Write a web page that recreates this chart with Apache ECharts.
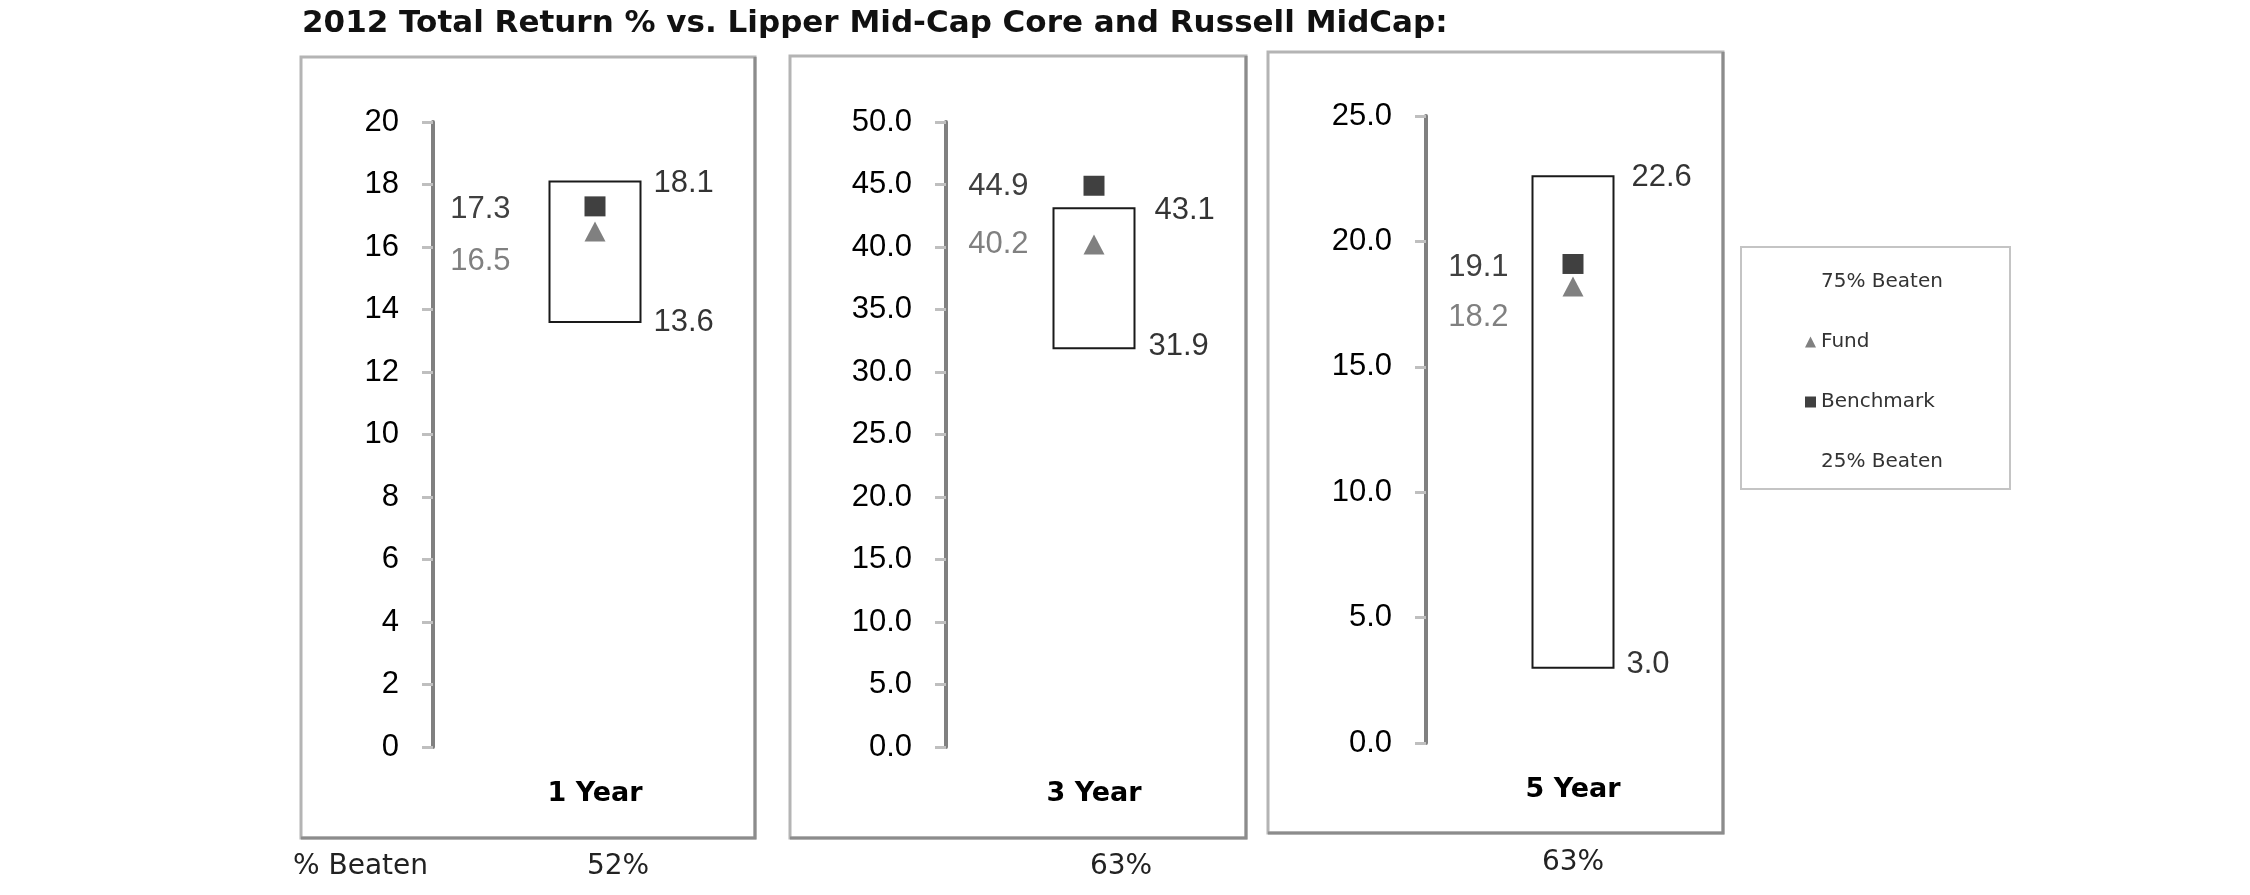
<!DOCTYPE html>
<html>
<head>
<meta charset="utf-8">
<script src="https://cdn.jsdelivr.net/npm/echarts@6.0.0/dist/echarts.min.js"></script>
<style>
  html, body { margin: 0; padding: 0; background: #fff; }
  #chart { width: 2250px; height: 895px; }
</style>
</head>
<body>
<div id="chart"></div>
<script>
// data
var periods = ['1 Year', '3 Year', '5 Year'];
var pctBeaten = ['52%', '63%', '63%'];
var upper75 = [18.1, 43.1, 22.6];
var lower25 = [13.6, 31.9, 3.0];
var fundVals = [16.5, 40.2, 18.2];
var benchVals = [17.3, 44.9, 19.1];
var axisMax = [20, 50, 25];
var axisStep = [2, 5, 5];
var axisDecimals = [0, 1, 1];

// layout of the three panels (pixels)
var layout = [
  { grid: { left: 433, top: 122, width: 324, height: 625 }, frame: [301, 57, 755, 838], box: 91, lblDist: 74, fundDy: 30, benchDy: 3, hiDist: 13, loDist: 13, hiDy: 2, loDy: 0, pct: [618, 867] },
  { grid: { left: 946, top: 122, width: 296, height: 625 }, frame: [790, 56, 1246, 838], box: 81, lblDist: 55, fundDy: 0, benchDy: 1, hiDist: 20, loDist: 14, hiDy: 2, loDy: -2, pct: [1121, 867] },
  { grid: { left: 1426, top: 116, width: 294, height: 627 }, frame: [1268, 52, 1723, 833], box: 81, lblDist: 54, fundDy: 31, benchDy: 3, hiDist: 18, loDist: 13, hiDy: 1, loDy: -3, pct: [1573, 863] }
];

var numFont = 'Liberation Sans';
var boldFont = 'DejaVu Sans';

var grids = [], xAxes = [], yAxes = [], series = [], graphics = [];

layout.forEach(function (L, i) {
  grids.push(L.grid);
  xAxes.push({
    gridIndex: i, type: 'value', min: 0, max: 1,
    axisLine: { show: false }, axisTick: { show: false }, axisLabel: { show: false }, splitLine: { show: false },
    name: periods[i], nameLocation: 'middle', nameGap: 33,
    nameTextStyle: { fontFamily: boldFont, fontWeight: 'bold', fontSize: 27, color: '#000' }
  });
  yAxes.push({
    gridIndex: i, type: 'value', min: 0, max: axisMax[i], interval: axisStep[i],
    axisLine: { show: true, lineStyle: { color: '#808080', width: 4 } },
    axisTick: { show: true, length: 11, lineStyle: { color: '#bfbfbf', width: 3 } },
    splitLine: { show: false },
    axisLabel: {
      margin: 34, color: '#000', fontFamily: numFont, fontSize: 31,
      formatter: function (v) { return v.toFixed(axisDecimals[i]); }
    }
  });

  // quartile box
  series.push({
    type: 'custom', name: 'Range', xAxisIndex: i, yAxisIndex: i, z: 1,
    data: [[0.5, lower25[i], upper75[i]]],
    renderItem: function (params, api) {
      var top = api.coord([api.value(0), api.value(2)]);
      var bot = api.coord([api.value(0), api.value(1)]);
      var w = L.box;
      return {
        type: 'rect',
        shape: { x: top[0] - w / 2, y: top[1], width: w, height: bot[1] - top[1] },
        style: { fill: '#fff', stroke: '#1a1a1a', lineWidth: 2 }
      };
    }
  });

  // box end labels
  series.push({
    type: 'scatter', name: '75% Beaten', xAxisIndex: i, yAxisIndex: i,
    data: [[0.5, upper75[i]]], symbol: 'rect', symbolSize: [L.box, 1],
    itemStyle: { color: 'rgba(0,0,0,0)' }, silent: true,
    label: { show: true, position: 'right', distance: L.hiDist, offset: [0, L.hiDy], color: '#000', fontFamily: numFont, fontSize: 31,
      formatter: function (p) { return p.value[1].toFixed(1); } }
  });
  series.push({
    type: 'scatter', name: '25% Beaten', xAxisIndex: i, yAxisIndex: i,
    data: [[0.5, lower25[i]]], symbol: 'rect', symbolSize: [L.box, 1],
    itemStyle: { color: 'rgba(0,0,0,0)' }, silent: true,
    label: { show: true, position: 'right', distance: L.loDist, offset: [0, L.loDy], color: '#000', fontFamily: numFont, fontSize: 31,
      formatter: function (p) { return p.value[1].toFixed(1); } }
  });

  // benchmark and fund markers
  series.push({
    type: 'scatter', name: 'Benchmark', xAxisIndex: i, yAxisIndex: i, z: 3,
    data: [[0.5, benchVals[i]]], symbol: 'rect', symbolSize: [21, 20],
    itemStyle: { color: '#404040', opacity: 1 },
    label: { show: true, position: 'left', distance: L.lblDist, offset: [0, L.benchDy], color: '#404040', fontFamily: numFont, fontSize: 31,
      formatter: function (p) { return p.value[1].toFixed(1); } }
  });
  series.push({
    type: 'scatter', name: 'Fund', xAxisIndex: i, yAxisIndex: i, z: 3,
    data: [[0.5, fundVals[i]]], symbol: 'triangle', symbolSize: [21, 20],
    itemStyle: { color: '#808080', opacity: 1 },
    label: { show: true, position: 'left', distance: L.lblDist, offset: [0, L.fundDy], color: '#808080', fontFamily: numFont, fontSize: 31,
      formatter: function (p) { return p.value[1].toFixed(1); } }
  });

  // panel frame
  var f = L.frame;
  graphics.push({
    type: 'rect', z: -10,
    shape: { x: f[0], y: f[1], width: f[2] - f[0], height: f[3] - f[1] },
    style: { fill: 'none', stroke: '#b4b4b4', lineWidth: 3 }
  });
  graphics.push({
    type: 'polyline', z: -9,
    shape: { points: [[f[2], f[1]], [f[2], f[3]], [f[0], f[3]]] },
    style: { fill: 'none', stroke: '#8c8c8c', lineWidth: 3 }
  });
  graphics.push({
    type: 'text', x: L.pct[0], y: L.pct[1],
    style: { text: pctBeaten[i], fontFamily: boldFont, fontSize: 28, fill: '#222', align: 'center', verticalAlign: 'middle' }
  });
});

graphics.push({
  type: 'text', x: 293, y: 867,
  style: { text: '% Beaten', fontFamily: boldFont, fontSize: 28, fill: '#222', align: 'left', verticalAlign: 'middle' }
});
// legend border
graphics.push({
  type: 'rect', z: -10,
  shape: { x: 1741, y: 247, width: 269, height: 242 },
  style: { fill: 'none', stroke: '#c4c4c4', lineWidth: 2 }
});

var option = {
  backgroundColor: '#fff',
  animation: false,
  title: {
    text: '2012 Total Return % vs. Lipper Mid-Cap Core and Russell MidCap:',
    left: 297, top: 3,
    textStyle: { fontFamily: boldFont, fontWeight: 'bold', fontSize: 31, color: '#111' }
  },
  legend: {
    orient: 'vertical', left: 1805, top: 272, padding: 0,
    itemWidth: 11, itemHeight: 11, itemGap: 40,
    selectedMode: false,
    textStyle: { fontFamily: boldFont, fontSize: 20, color: '#333' },
    data: [
      { name: '75% Beaten', icon: 'none' },
      { name: 'Fund', icon: 'triangle' },
      { name: 'Benchmark', icon: 'rect' },
      { name: '25% Beaten', icon: 'none' }
    ]
  },
  grid: grids,
  xAxis: xAxes,
  yAxis: yAxes,
  series: series,
  graphic: graphics
};

var chart = echarts.init(document.getElementById('chart'));
chart.setOption(option);
</script>
</body>
</html>
